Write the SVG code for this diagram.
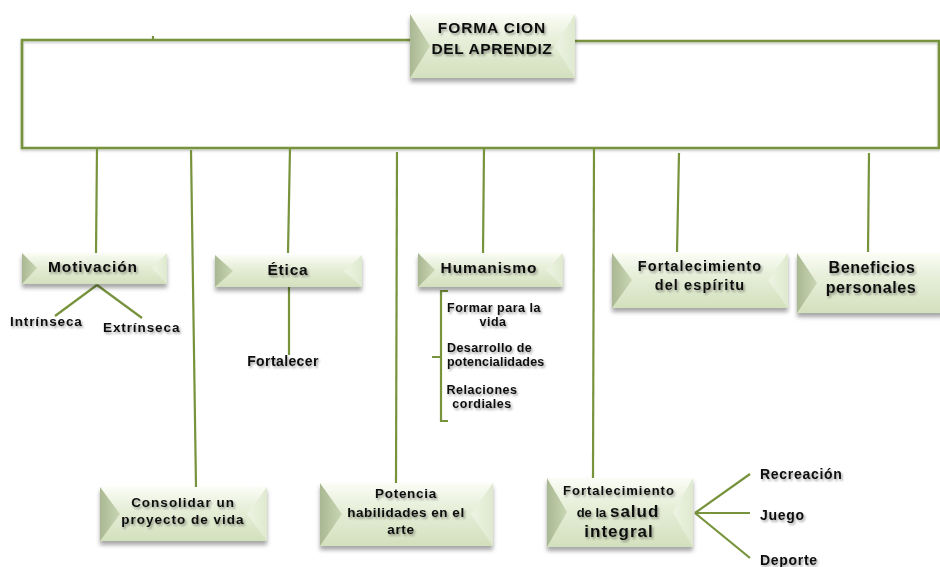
<svg xmlns="http://www.w3.org/2000/svg" width="940" height="567" viewBox="0 0 940 567">
<defs>
<linearGradient id="face" x1="0" y1="0" x2="0" y2="1">
<stop offset="0" stop-color="#fbfdf6"/>
<stop offset="0.35" stop-color="#e9f0dc"/>
<stop offset="1" stop-color="#d3e0bd"/>
</linearGradient>
<linearGradient id="bevL" x1="0" y1="0" x2="1" y2="0">
<stop offset="0" stop-color="#a9b892"/>
<stop offset="1" stop-color="#c9d6b4"/>
</linearGradient>
<linearGradient id="bevR" x1="1" y1="0" x2="0" y2="0">
<stop offset="0" stop-color="#dfe9cf"/>
<stop offset="1" stop-color="#eef4e4"/>
</linearGradient>
<filter id="boxsh" x="-10%" y="-20%" width="120%" height="160%">
<feDropShadow dx="0" dy="4" stdDeviation="2" flood-color="#000" flood-opacity="0.35"/>
</filter>
<filter id="txtsh" x="-10%" y="-30%" width="130%" height="170%">
<feDropShadow dx="1.5" dy="2" stdDeviation="1.2" flood-color="#000" flood-opacity="0.35"/>
</filter>
<filter id="linesh" x="-5%" y="-50%" width="110%" height="200%">
<feDropShadow dx="0" dy="1.5" stdDeviation="1" flood-color="#000" flood-opacity="0.25"/>
</filter>
</defs>
<style>
.face{fill:url(#face)}
.bl{fill:url(#bevL)}
.br{fill:url(#bevR)}
.box{filter:url(#boxsh)}
.t{font-family:"Liberation Sans",Arial,sans-serif;font-weight:bold;fill:#111;filter:url(#txtsh);text-anchor:middle}
.ts{font-family:"Liberation Sans",Arial,sans-serif;font-weight:bold;fill:#111;filter:url(#txtsh)}
.ln{fill:none;stroke:#77933c;stroke-width:2.2}
.main{fill:none;stroke:#77933c;stroke-width:2.6;filter:url(#linesh)}
</style>

<g id="connectors">
<path class="main" d="M410,40 H22 V148 H939 V41 H575"/>
<line class="ln" x1="153" y1="36" x2="153" y2="40"/>
<line class="ln" x1="97" y1="148" x2="96" y2="253"/>
<line class="ln" x1="191" y1="150" x2="196" y2="487"/>
<line class="ln" x1="290" y1="148" x2="288" y2="253"/>
<line class="ln" x1="397" y1="152" x2="396" y2="483"/>
<line class="ln" x1="484" y1="148" x2="483" y2="254"/>
<line class="ln" x1="594" y1="148" x2="593" y2="478"/>
<line class="ln" x1="679" y1="153" x2="677" y2="252"/>
<line class="ln" x1="869" y1="153" x2="868" y2="252"/>
<path class="ln" d="M97,285 L55,316 M97,285 L142,318"/>
<line class="ln" x1="289" y1="287" x2="289" y2="355"/>
<path class="ln" d="M448,291 H441 V421 H448 M441,357 H432"/>
<path class="ln" d="M695,513 L750,474 M695,513 L750,513 M695,513 L750,558"/>
</g>

<g id="formacion">
<g class="box">
<rect class="face" x="410" y="14" width="165" height="64"/>
<polygon class="bl" points="410,14 430,46 410,78"/>
<polygon class="br" points="575,14 555,46 575,78"/>
</g>
<text class="t" font-size="15.5" letter-spacing="0.9" x="492" y="33">FORMA CION</text>
<text class="t" font-size="15.5" letter-spacing="0.6" x="492" y="54">DEL APRENDIZ</text>
</g>

<g id="motivacion">
<g class="box">
<rect class="face" x="22" y="253" width="145" height="31"/>
<polygon class="bl" points="22,253 37,268 22,284"/>
<polygon class="br" points="167,253 152,268 167,284"/>
</g>
<text class="t" font-size="15.5" letter-spacing="0.9" x="93" y="272">Motivación</text>
</g>
<g id="intrinseca"><text class="ts" font-size="13.5" letter-spacing="0.9" x="10" y="326">Intrínseca</text></g>
<g id="extrinseca"><text class="ts" font-size="13.5" letter-spacing="0.9" x="103" y="332">Extrínseca</text></g>

<g id="etica">
<g class="box">
<rect class="face" x="215" y="255" width="147" height="32"/>
<polygon class="bl" points="215,255 233,271 215,287"/>
<polygon class="br" points="362,255 344,271 362,287"/>
</g>
<text class="t" font-size="15.5" letter-spacing="0.8" x="288" y="275">Ética</text>
</g>
<g id="fortalecer"><text class="t" font-size="14" letter-spacing="0.4" x="283" y="366">Fortalecer</text></g>

<g id="humanismo">
<g class="box">
<rect class="face" x="418" y="253" width="145" height="34"/>
<polygon class="bl" points="418,253 435,270 418,287"/>
<polygon class="br" points="563,253 546,270 563,287"/>
</g>
<text class="t" font-size="15.5" letter-spacing="0.9" x="489" y="273">Humanismo</text>
</g>
<g id="humanismo-items">
<text class="t" font-size="12.5" letter-spacing="0.5" x="494" y="312">Formar para la</text>
<text class="t" font-size="12.5" letter-spacing="0.5" x="493" y="326">vida</text>
<text class="ts" font-size="12.5" letter-spacing="0.4" x="447" y="352">Desarrollo de</text>
<text class="ts" font-size="12.5" letter-spacing="0.2" x="447" y="366">potencialidades</text>
<text class="t" font-size="12.5" letter-spacing="0.5" x="482" y="394">Relaciones</text>
<text class="t" font-size="12.5" letter-spacing="0.5" x="482" y="408">cordiales</text>
</g>

<g id="espiritu">
<g class="box">
<rect class="face" x="612" y="253" width="176" height="55"/>
<polygon class="bl" points="612,253 632,280 612,308"/>
<polygon class="br" points="788,253 768,280 788,308"/>
</g>
<text class="t" font-size="14.5" letter-spacing="1.1" x="700" y="271">Fortalecimiento</text>
<text class="t" font-size="14.5" letter-spacing="1.1" x="700" y="290">del espíritu</text>
</g>

<g id="beneficios">
<g class="box">
<rect class="face" x="797" y="253" width="150" height="60"/>
<polygon class="bl" points="797,253 817,283 797,313"/>
</g>
<text class="t" font-size="16" letter-spacing="0.6" x="872" y="273">Beneficios</text>
<text class="t" font-size="16" letter-spacing="0.6" x="871" y="293">personales</text>
</g>

<g id="consolidar">
<g class="box">
<rect class="face" x="100" y="487" width="167" height="54"/>
<polygon class="bl" points="100,487 120,514 100,541"/>
<polygon class="br" points="267,487 247,514 267,541"/>
</g>
<text class="t" font-size="13.5" letter-spacing="1" x="183" y="507">Consolidar un</text>
<text class="t" font-size="13.5" letter-spacing="1" x="183" y="524">proyecto de vida</text>
</g>

<g id="potencia">
<g class="box">
<rect class="face" x="320" y="483" width="173" height="63"/>
<polygon class="bl" points="320,483 342,514 320,546"/>
<polygon class="br" points="493,483 471,514 493,546"/>
</g>
<text class="t" font-size="13.5" letter-spacing="0.7" x="406" y="498">Potencia</text>
<text class="t" font-size="13.5" letter-spacing="0.5" x="406" y="517">habilidades en el</text>
<text class="t" font-size="13.5" letter-spacing="0.7" x="401" y="534">arte</text>
</g>

<g id="salud">
<g class="box">
<rect class="face" x="547" y="478" width="146" height="69"/>
<polygon class="bl" points="547,478 567,512 547,547"/>
<polygon class="br" points="693,478 673,512 693,547"/>
</g>
<text class="t" font-size="13" letter-spacing="1" x="619" y="495">Fortalecimiento</text>
<text class="t" x="618" y="517"><tspan font-size="13">de la </tspan><tspan font-size="17" letter-spacing="1">salud</tspan></text>
<text class="t" font-size="17" letter-spacing="1" x="619" y="537">integral</text>
</g>
<g id="recreacion"><text class="ts" font-size="14" letter-spacing="0.7" x="760" y="479">Recreación</text></g>
<g id="juego"><text class="ts" font-size="14" letter-spacing="0.7" x="760" y="520">Juego</text></g>
<g id="deporte"><text class="ts" font-size="14" letter-spacing="0.7" x="760" y="565">Deporte</text></g>
</svg>
